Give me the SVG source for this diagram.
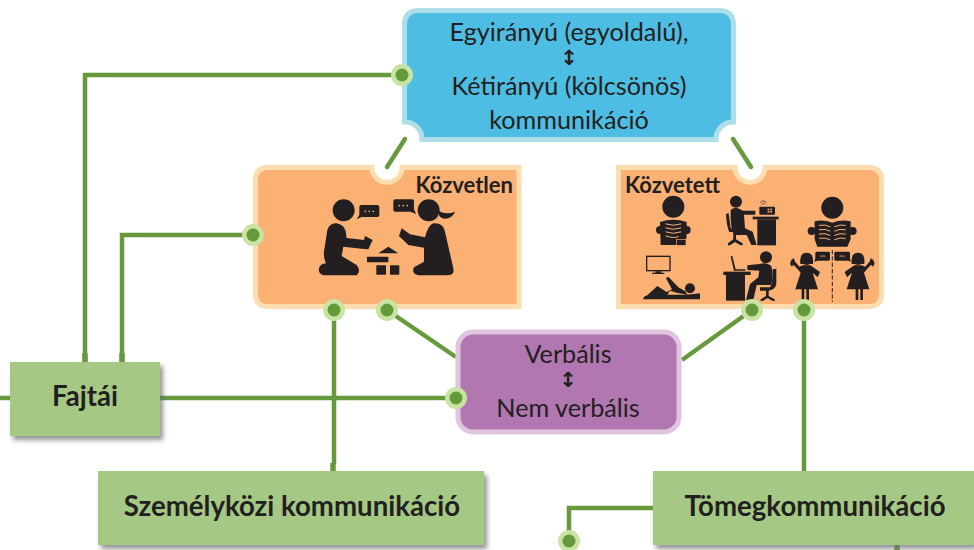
<svg xmlns="http://www.w3.org/2000/svg" width="974" height="550" viewBox="0 0 974 550">
<style>
text{font-family:Lato,"Noto Sans",sans-serif;fill:#231f20;text-anchor:middle}
.m{font-size:25.2px}
.g{font-size:27.6px;font-weight:700}
.k{font-size:22px;font-weight:700}
.arr{font-family:"DejaVu Sans",sans-serif;font-size:21px;font-weight:700}
.line{fill:none;stroke:#669a3c;stroke-width:4.500}
.stub{fill:none;stroke:#669a3c;stroke-width:5.500}
.halo{fill:#c9e3a2}
.dot{fill:#659a3a}
.box{fill:#a5c985;filter:url(#sh)}
.ic{fill:#231f20}
.lc{fill:none;stroke:#fbb074;stroke-width:3;stroke-linecap:round}
</style>
<defs>
<filter id="sh" x="-10%" y="-20%" width="125%" height="150%"><feDropShadow dx="3" dy="4" stdDeviation="2.500" flood-color="#6d6e71" flood-opacity=".75"/></filter>
<g id="dotm"><circle class="halo" r="11"/><circle class="dot" r="6.500"/></g>
<g id="girl"><circle cx="0" cy="0" r="17"/><path d="M-19,14Q-22,-20 0,-20Q22,-20 19,14L10,14L-10,14Z"/><path d="M-11,18L11,18L40,38L33,54L18,40L34,90L7,90L7,122L-1,122L-1,90L-7,90L-7,122L-15,122L-15,90L-34,90L-18,40L-28,28L-44,12L-37,4L-22,22Z"/><path d="M-46,2L-38,-4L-35,10L-44,22L-50,14Z"/></g>
</defs>
<g id="connectors">
<path class="line" d="M85,362V75H402"/>
<path class="line" d="M122,362V235H253"/>
<path class="stub" d="M85,353V362M122,353V362M333,463V471"/>
<path class="line" d="M0,398H10"/>
<path class="line" d="M160,398H456"/>
<path class="line" d="M334,310V464"/>
<path class="line" d="M387,310L456,357"/>
<path class="line" d="M752,310L682,360"/>
<path class="line" d="M804,310V471"/>
<path class="line" d="M653,508H569V541"/>
<path class="stub" d="M897,545V550"/>
<path class="line" stroke-linecap="round" d="M405,139L387,167"/>
<path class="line" stroke-linecap="round" d="M733,139L751,167"/>
</g>
<g id="node-iranyu">
<path d="M404.500,25Q404.500,10.500 419,10.500H719Q733.500,10.500 733.500,25V122A17,17 0 0 0 716,139.500H422A17,17 0 0 0 404.500,122Z" fill="#4dbde3" stroke="#aedfe9" stroke-width="5"/>
<text class="m" x="569" y="41">Egyirányú (egyoldalú),</text>
<text class="arr" x="569" y="65">↕</text>
<text class="m" x="569" y="95">Kétirányú (kölcsönös)</text>
<text class="m" x="569" y="129">kommunikáció</text>
</g>
<g id="node-kozvetlen">
<path d="M268,167.500H372A15,15 0 0 0 402,167.500H519V306.500H268Q255.500,306.500 255.500,294V180Q255.500,167.500 268,167.500Z" fill="#fbb074" stroke="#fddcb0" stroke-width="5"/>
<text class="k" x="513" y="193" style="text-anchor:end">Közvetlen</text>
<g transform="translate(240,150) scale(.3333)" class="ic">
<circle cx="311" cy="181" r="33"/>
<path d="M262,240Q270,218 290,220Q315,225 318,250L320,264L372,270L375,258L398,270L385,298L365,296L310,290L305,318L350,345Q364,362 350,376L250,376Q232,370 238,352Q242,342 258,340Q250,325 252,305Z"/>
<path d="M364,165H412Q418,165 418,171V195Q418,201 412,201H365L350,208L358,195V171Q358,165 364,165Z"/>
<circle cx="566" cy="181" r="33"/>
<path d="M596,183Q620,195 646,185Q635,206 615,206Q604,206 598,198Z"/>
<path d="M466,148H516Q522,148 522,154V178L528,192L512,185H466Q460,185 460,179V154Q460,148 466,148Z"/>
<path d="M580,220Q610,218 615,245L640,355Q645,376 620,376L535,376Q513,370 522,352L552,335L552,293L505,285L477,258L485,235L510,253L555,262Q565,225 580,220Z"/>
<path d="M415,310L445,290L475,310Z"/>
<rect x="381" y="320" width="64" height="17" rx="2"/>
<rect x="409" y="346" width="29" height="28" rx="2"/>
<rect x="450" y="346" width="28" height="28" rx="2"/>
<g fill="#fbb074"><circle cx="376" cy="184" r="2.500"/><circle cx="388" cy="184" r="2.500"/><circle cx="400" cy="184" r="2.500"/><circle cx="478" cy="167" r="2.500"/><circle cx="490" cy="167" r="2.500"/><circle cx="502" cy="167" r="2.500"/></g>
</g>
</g>
<g id="node-kozvetett">
<path d="M618.500,167.500H735A15,15 0 0 0 765,167.500H869Q881.500,167.500 881.500,180V294Q881.500,306.500 869,306.500H618.500Z" fill="#fbb074" stroke="#fddcb0" stroke-width="5"/>
<text class="k" x="625" y="193" style="text-anchor:start">Közvetett</text>
<g transform="translate(610,160) scale(.3333)" class="ic">
<circle cx="190" cy="140" r="33"/>
<path d="M150,186Q190,172 230,186V226Q230,250 210,255H152Z"/>
<circle cx="150" cy="210" r="12"/><circle cx="230" cy="210" r="12"/>
<path class="lc" d="M168,192Q190,200 212,192M168,204Q190,212 212,204M168,216Q190,224 212,216M168,228Q190,236 205,230"/>
<rect x="200" y="238" width="28" height="18" stroke="#fbb074" stroke-width="2"/>
<circle cx="378" cy="125" r="18"/>
<path d="M362,152Q365,142 382,144L400,152H436V164H402L405,205L428,215L440,255H424L410,225H372Q360,200 362,152Z"/>
<path d="M348,162L356,160L362,205H396V216H378V238L398,250V256H392L375,246L360,256H354V250L370,238V216H358Q350,200 348,162Z"/>
<rect x="428" y="170" width="78" height="8"/>
<rect x="442" y="178" width="56" height="78"/>
<rect x="448" y="140" width="47" height="24" rx="3"/>
<path fill="none" stroke="#231f20" stroke-width="2" d="M450,128Q460,118 470,128M454,133Q460,127 466,133"/>
<g fill="#fbb074"><rect x="473" y="146" width="5" height="5"/><rect x="481" y="146" width="5" height="5"/><rect x="473" y="153" width="5" height="5"/><rect x="481" y="153" width="5" height="5"/></g>
<circle cx="667" cy="143" r="33"/>
<path d="M614,184Q640,178 667,188Q694,178 722,184V238L712,260H622L614,238Z"/>
<circle cx="605" cy="213" r="12"/><circle cx="728" cy="213" r="12"/>
<path class="lc" d="M628,196Q646,192 660,200M628,209Q646,205 660,213M628,222Q646,218 660,226M628,235Q646,231 660,239M674,200Q690,192 706,196M674,213Q690,205 706,209M674,226Q690,218 706,222M674,239Q690,231 706,235"/>
<rect x="110" y="289" width="70" height="43" fill="none" stroke="#231f20" stroke-width="4"/>
<path d="M136,334H154V338H163V342H126V338H136Z"/>
<path d="M168,355L175,350L205,382L226,394L232,404L200,398L180,392L172,404H228L250,402L270,400V418H100Q98,410 112,406L142,378L170,396L186,388Z"/>
<circle cx="240" cy="385" r="15"/>
<rect x="340" y="335" width="82" height="10"/>
<rect x="348" y="345" width="57" height="77"/>
<path d="M362,289L367,288L377,328H406V332H372Z"/>
<circle cx="468" cy="292" r="18"/>
<path d="M412,316L448,312Q470,305 484,318Q490,340 484,375H440L430,420H408L420,372L445,352L448,332L412,330Z"/>
<path d="M488,328L499,326V372Q498,388 476,392V408L494,418V423H488L473,414L458,423H452V418L468,408V392H450V382H480Q488,375 488,328Z"/>
<g transform="translate(590,298)"><use href="#girl"/></g>
<g transform="translate(744,298) scale(-1,1)"><use href="#girl"/></g>
<path d="M620,275H656Q660,275 660,279V298Q660,302 656,302H622L613,305L616,296V279Q616,275 620,275Z"/>
<path d="M677,275H716Q720,275 720,279V296L723,305L714,302H677Q673,302 673,298V279Q673,275 677,275Z"/>
<path fill="none" stroke="#231f20" stroke-width="3" stroke-dasharray="13 6" d="M667,270V426"/>
<g fill="#fbb074"><rect x="630" y="287" width="16" height="2.500"/><rect x="688" y="287" width="16" height="2.500"/></g>
</g>
</g>
<g id="node-verbalis">
<rect x="458" y="332" width="221" height="100" rx="15" fill="#b077b0" stroke="#dfc5df" stroke-width="5"/>
<text class="m" x="568" y="363">Verbális</text>
<text class="arr" x="568" y="387">↕</text>
<text class="m" x="568" y="417">Nem verbális</text>
</g>
<g id="node-fajtai"><rect class="box" x="10" y="362" width="150" height="74"/><text class="g" x="85" y="406">Fajtái</text></g>
<g id="node-szemelykozi"><rect class="box" x="98" y="471" width="386" height="74"/><text class="g" x="292" y="516">Személyközi kommunikáció</text></g>
<g id="node-tomeg"><rect class="box" x="653" y="471" width="321" height="74"/><text class="g" x="815" y="516">Tömegkommunikáció</text></g>
<g id="dots">
<use href="#dotm" x="402" y="75"/><use href="#dotm" x="253" y="235"/><use href="#dotm" x="334" y="310"/><use href="#dotm" x="387" y="310"/><use href="#dotm" x="752" y="310"/><use href="#dotm" x="804" y="310"/><use href="#dotm" x="456" y="398"/><use href="#dotm" x="569" y="541"/>
</g>
</svg>
